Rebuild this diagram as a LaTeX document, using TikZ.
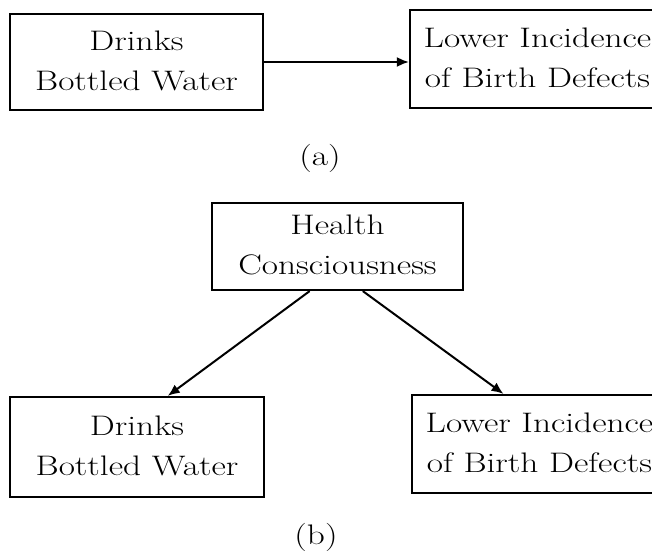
\documentclass[tikz,border=0pt]{standalone}
\usepackage{graphicx}
\usetikzlibrary{arrows.meta,calc}
\newcommand\sqtxt[1]{\scalebox{1}[0.8]{\begin{tabular}{@{}c@{}}#1\end{tabular}}}
\begin{document}
\begin{tikzpicture}[x=1pt,y=-1pt,
  txt/.style={font=\fontsize{35.3}{50}\selectfont, inner sep=0pt},
  box/.style={draw, line width=2.2pt, align=center, txt},
  conn/.style={line width=2pt, -{Latex[length=12pt,width=10pt]}}]
\useasboundingbox (0,0) rectangle (652,551);
\clip (0,0) rectangle (652,551);
% (a)
\node[box, minimum width=253pt, minimum height=96pt] (a1) at (136.5,62) {\sqtxt{Drinks\\Bottled Water}};
\node[box, minimum width=255pt, minimum height=98pt] (a2) at (537.5,59) {\sqtxt{Lower Incidence\\of Birth Defects}};
\node[txt] (la) at (320,157) {\sqtxt{(a)}};
\draw[conn] (a1.east) -- (a2.west |- a1.east);
% (b)
\node[box, minimum width=251pt, minimum height=87pt] (h) at (337.5,246.5) {\sqtxt{Health\\Consciousness}};
\node[box, minimum width=254pt, minimum height=100pt] (b1) at (137,447) {\sqtxt{Drinks\\Bottled Water}};
\node[box, minimum width=255pt, minimum height=98pt] (b2) at (539.5,444) {\sqtxt{Lower Incidence\\of Birth Defects}};
\node[txt] (lb) at (316,536) {\sqtxt{(b)}};
\coordinate (hl) at ($(h.south west)!0.39!(h.south east)$);
\coordinate (hr) at ($(h.south west)!0.60!(h.south east)$);
\coordinate (b1t) at ($(b1.north west)!0.62!(b1.north east)$);
\coordinate (b2t) at ($(b2.north west)!0.36!(b2.north east)$);
\draw[conn] (hl) -- (b1t);
\draw[conn] (hr) -- (b2t);
\end{tikzpicture}
\end{document}
